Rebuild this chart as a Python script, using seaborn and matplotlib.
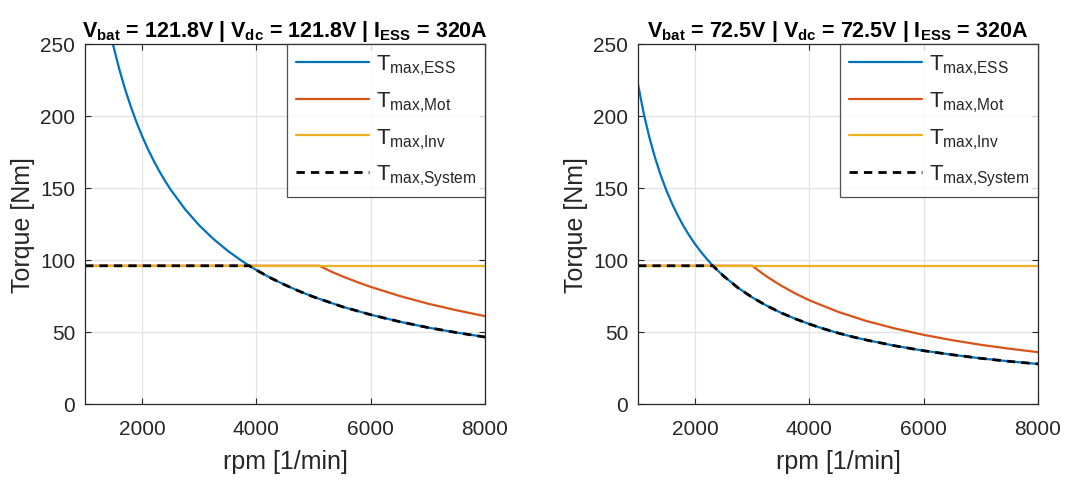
import matplotlib
matplotlib.use("Agg")
import matplotlib.pyplot as plt
import seaborn as sns

# ---------------- data ----------------
titles = [
    r"V$_{\mathbf{bat}}$ = 121.8V | V$_{\mathbf{dc}}$ = 121.8V | I$_{\mathbf{ESS}}$ = 320A",
    r"V$_{\mathbf{bat}}$ = 72.5V | V$_{\mathbf{dc}}$ = 72.5V | I$_{\mathbf{ESS}}$ = 320A",
]
labels = [r"T$_{\mathrm{max{,}ESS}}$", r"T$_{\mathrm{max{,}Mot}}$",
          r"T$_{\mathrm{max{,}Inv}}$", r"T$_{\mathrm{max{,}System}}$"]

# Left panel (121.8 V)
L_ess_rpm = [1000, 1100, 1200, 1300, 1400, 1500, 1600, 1700, 1800, 1900, 2000, 2100, 2200,
             2300, 2400, 2500, 2750, 3000, 3250, 3500, 3750, 4000, 4250, 4500, 4750, 5000,
             5500, 6000, 6500, 7000, 7500, 8000]
L_ess_T = [372.0, 338.2, 310.0, 286.2, 265.7, 248.0, 232.5, 218.8, 206.7, 195.8, 186.0, 177.1,
           169.1, 161.7, 155.0, 148.8, 135.3, 124.0, 114.5, 106.3, 99.2, 93.0, 87.5, 82.7, 78.3,
           74.4, 67.6, 62.0, 57.2, 53.1, 49.6, 46.5]
L_mot_rpm = [1000, 5100, 5300, 5500, 5750, 6000, 6500, 7000, 7500, 8000]
L_mot_T = [96.0, 96.0, 92.1, 88.7, 84.9, 81.3, 75.1, 69.7, 65.1, 61.0]
L_inv_rpm = [1000, 8000]
L_inv_T = [96.0, 96.0]
L_sys_rpm = [1000, 3875, 4000, 4250, 4500, 4750, 5000, 5500, 6000, 6500, 7000, 7500, 8000]
L_sys_T = [96.0, 96.0, 93.0, 87.5, 82.7, 78.3, 74.4, 67.6, 62.0, 57.2, 53.1, 49.6, 46.5]

# Right panel (72.5 V)
R_ess_rpm = [1000, 1100, 1200, 1300, 1400, 1500, 1600, 1700, 1800, 1900, 2000, 2100, 2200,
             2300, 2400, 2500, 2750, 3000, 3250, 3500, 3750, 4000, 4250, 4500, 4750, 5000,
             5500, 6000, 6500, 7000, 7500, 8000]
R_ess_T = [222.0, 201.8, 185.0, 170.8, 158.6, 148.0, 138.8, 130.6, 123.3, 116.8, 111.0, 105.7,
           100.9, 96.5, 92.5, 88.8, 80.7, 74.0, 68.3, 63.4, 59.2, 55.5, 52.2, 49.3, 46.7, 44.4,
           40.4, 37.0, 34.2, 31.7, 29.6, 27.8]
R_mot_rpm = [1000, 3000, 3125, 3250, 3500, 3750, 4000, 4500, 5000, 5500, 6000, 6500, 7000, 7500, 8000]
R_mot_T = [96.0, 96.0, 92.2, 88.6, 82.3, 76.8, 72.0, 64.0, 57.6, 52.4, 48.0, 44.3, 41.1, 38.4, 36.0]
R_inv_rpm = [1000, 8000]
R_inv_T = [96.0, 96.0]
R_sys_rpm = [1000, 2310, 2400, 2500, 2750, 3000, 3250, 3500, 3750, 4000, 4250, 4500, 4750, 5000,
             5500, 6000, 6500, 7000, 7500, 8000]
R_sys_T = [96.0, 96.0, 92.5, 88.8, 80.7, 74.0, 68.3, 63.4, 59.2, 55.5, 52.2, 49.3, 46.7, 44.4,
           40.4, 37.0, 34.2, 31.7, 29.6, 27.8]

x_ticks = [2000, 4000, 6000, 8000]
y_ticks = [0, 50, 100, 150, 200, 250]

panels = [
    (L_ess_rpm, L_ess_T, L_mot_rpm, L_mot_T, L_inv_rpm, L_inv_T, L_sys_rpm, L_sys_T),
    (R_ess_rpm, R_ess_T, R_mot_rpm, R_mot_T, R_inv_rpm, R_inv_T, R_sys_rpm, R_sys_T),
]

# ---------------- style ----------------
sns.set_theme(style="white")
plt.rcParams["font.family"] = ["Liberation Sans", "DejaVu Sans"]
plt.rcParams["mathtext.fontset"] = "custom"
plt.rcParams["mathtext.rm"] = "Liberation Sans"
plt.rcParams["mathtext.it"] = "Liberation Sans:italic"
plt.rcParams["mathtext.bf"] = "Liberation Sans:bold"

colors = ["#0072BD", "#D95319", "#EDB120", "black"]
text_col = "#262626"

fig = plt.figure(figsize=(10.88, 4.85), dpi=100)
lefts = [85 / 1088, 638 / 1088]
for i, (p, left) in enumerate(zip(panels, lefts)):
    ax = fig.add_axes([left, 80 / 485, 400 / 1088, 360 / 485])
    ess_x, ess_y, mot_x, mot_y, inv_x, inv_y, sys_x, sys_y = p
    sns.lineplot(x=ess_x, y=ess_y, ax=ax, color=colors[0], lw=1.6, label=labels[0],
                 sort=False, estimator=None)
    sns.lineplot(x=mot_x, y=mot_y, ax=ax, color=colors[1], lw=1.6, label=labels[1],
                 sort=False, estimator=None)
    sns.lineplot(x=inv_x, y=inv_y, ax=ax, color=colors[2], lw=1.6, label=labels[2],
                 sort=False, estimator=None)
    sns.lineplot(x=sys_x, y=sys_y, ax=ax, color=colors[3], lw=2.0, label=labels[3],
                 sort=False, estimator=None, linestyle=(0, (3.0, 2.2)))
    ax.set_xlim(1000, 8000)
    ax.set_ylim(0, 250)
    ax.set_xticks(x_ticks)
    ax.set_yticks(y_ticks)
    ax.grid(True, color="#e3e3e3", lw=0.9)
    ax.set_axisbelow(True)
    for s in ax.spines.values():
        s.set_visible(True)
        s.set_color(text_col)
        s.set_linewidth(0.9)
    ax.tick_params(direction="in", length=4, width=0.8, colors=text_col,
                   labelsize=15, top=True, right=True, bottom=True, left=True,
                   labeltop=False, labelright=False, pad=7)
    ax.tick_params(axis="x", pad=11)
    ax.set_xlabel("rpm [1/min]", fontsize=18, color=text_col, labelpad=8)
    ax.set_ylabel("Torque [Nm]", fontsize=18, color=text_col, labelpad=4)
    ax.set_title(titles[i], fontsize=15.5, fontweight="bold", color="black", pad=6)
    leg = ax.legend(loc="upper right", fontsize=16, handlelength=3.3, frameon=True,
                    fancybox=False, borderaxespad=0, labelspacing=0.55,
                    borderpad=0.4, handletextpad=0.3)
    leg.get_frame().set_edgecolor(text_col)
    leg.get_frame().set_linewidth(0.9)

fig.savefig("out.png", dpi=100)
